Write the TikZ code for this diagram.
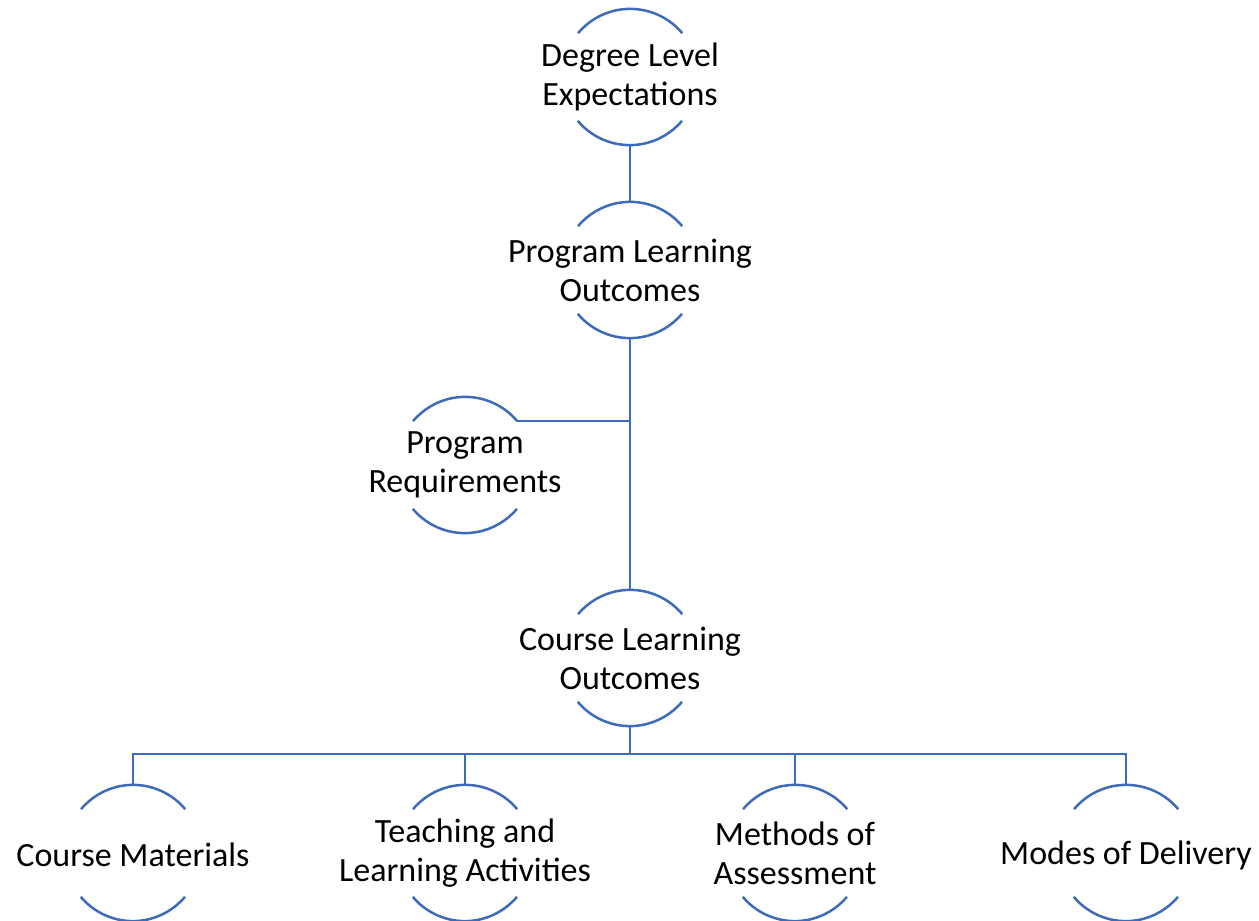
\documentclass[tikz,border=0pt]{standalone}
\usepackage{fontspec}
\setmainfont{Carlito}
\begin{document}
\begin{tikzpicture}[x=1pt,y=1pt,
  ring/.style={circle,minimum size=136pt,inner sep=0pt,draw=none},
  txt/.style={align=center,font=\fontsize{34}{39}\selectfont,text=black,inner sep=0pt},
  arcline/.style={draw=linkblue,line width=2.5pt},
  link/.style={draw=linkblue,line width=2.3pt}]
\definecolor{linkblue}{RGB}{62,106,186}
\useasboundingbox (0,0) rectangle (1259,921);

% ring nodes (circle centres) and their labels
\node[ring] (dle) at (630,844) {};
\node[txt] (dlet) at (dle) {Degree Level\\Expectations};
\node[ring] (plo) at (630,651) {};
\node[txt] (plot) at (plo) {Program Learning\\Outcomes};
\node[ring] (pr) at (465,456) {};
\node[txt] (prt) at (pr) {Program\\Requirements};
\node[ring] (clo) at (630,263) {};
\node[txt] (clot) at (clo) {Course Learning\\Outcomes};
\node[ring] (cm) at (133,68) {};
\node[txt] (cmt) at ([yshift=-2pt]cm) {Course Materials};
\node[ring] (tla) at (465,68) {};
\node[txt] (tlat) at (tla) {Teaching and\\Learning Activities};
\node[ring] (moa) at (795,68) {};
\node[txt] (moat) at (moa) {Methods of\\Assessment};
\node[ring] (mod) at (1126,68) {};
\node[txt] (modt) at ([yshift=-2pt]mod) {Modes of Delivery};

% upper and lower arcs of every ring
\foreach \n in {dle,plo,pr,clo,cm,tla,moa,mod}{
  \draw[arcline] (\n.40) arc[start angle=40,end angle=140,radius=68pt];
  \draw[arcline] (\n.220) arc[start angle=220,end angle=320,radius=68pt];
}

% connectors
\coordinate (bus) at (630,167);
\draw[link] (dle.south) -- (plo.north);
\draw[link] (plo.south) -- (clo.north);
\draw[link] (pr.40) -- (pr.40 -| plo.south);
\draw[link] (clo.south) -- (bus);
\draw[link] (cm.north) |- (bus);
\draw[link] (tla.north) |- (bus);
\draw[link] (moa.north) |- (bus);
\draw[link] (mod.north) |- (bus);
\end{tikzpicture}
\end{document}
